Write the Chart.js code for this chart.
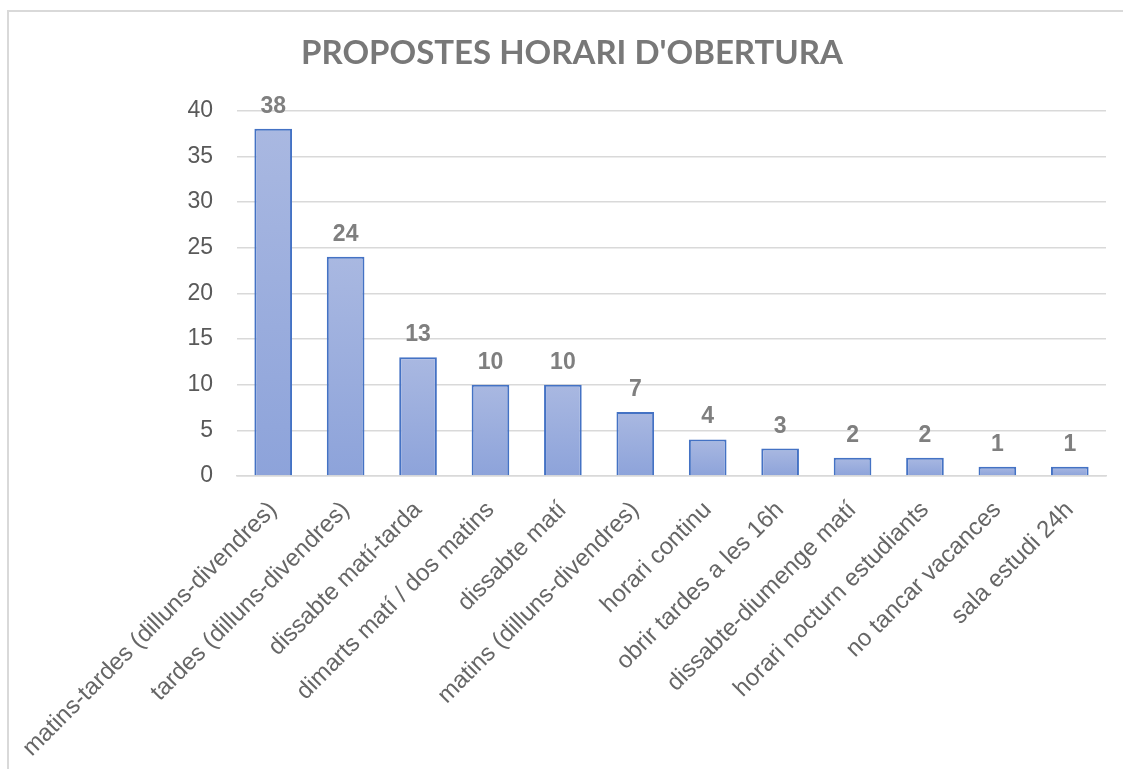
<!DOCTYPE html>
<html>
<head>
<meta charset="utf-8">
<script src="https://cdn.jsdelivr.net/npm/chart.js@4"></script>
<style>
  html, body { margin: 0; padding: 0; background: #fff; overflow: hidden; }
  #frame {
    position: absolute; left: 7px; top: 10px; width: 1200px; height: 800px;
    border: 2px solid #d9d9d9;
  }
  #wrap { position: absolute; left: 0; top: 0; width: 1123px; height: 769px; }
</style>
</head>
<body>
<div id="frame"></div>
<div id="wrap"><canvas id="chart"></canvas></div>
<script>
const categories = [
  "matins-tardes (dilluns-divendres)",
  "tardes (dilluns-divendres)",
  "dissabte matí-tarda",
  "dimarts matí / dos matins",
  "dissabte matí",
  "matins (dilluns-divendres)",
  "horari continu",
  "obrir tardes a les 16h",
  "dissabte-diumenge matí",
  "horari nocturn estudiants",
  "no tancar vacances",
  "sala estudi 24h"
];
const counts = [38, 24, 13, 10, 10, 7, 4, 3, 2, 2, 1, 1];
const title = "PROPOSTES HORARI D'OBERTURA";

// each bar gets its own light-to-dark vertical fill
function barFill(ctx) {
  const chart = ctx.chart;
  if (!chart.chartArea) return "#9aaedf";
  const y = chart.scales.y;
  const top = y.getPixelForValue(counts[ctx.dataIndex]);
  const bottom = y.getPixelForValue(0);
  const g = chart.ctx.createLinearGradient(0, top, 0, bottom);
  g.addColorStop(0, "#a9b8e1");
  g.addColorStop(1, "#8da3da");
  return g;
}

// numbers above the bars
const valueLabels = {
  id: "valueLabels",
  afterDatasetsDraw(chart) {
    const ctx = chart.ctx;
    const meta = chart.getDatasetMeta(0);
    ctx.save();
    ctx.font = "bold 23px 'Liberation Sans', Arial, sans-serif";
    ctx.fillStyle = "#7f7f7f";
    ctx.textAlign = "center";
    ctx.textBaseline = "alphabetic";
    meta.data.forEach((bar, i) => {
      ctx.fillText(String(counts[i]), bar.x, bar.y - 16);
    });
    ctx.restore();
  }
};

new Chart(document.getElementById("chart"), {
  type: "bar",
  data: {
    labels: categories,
    datasets: [{
      data: counts,
      backgroundColor: barFill,
      borderColor: "#4472c4",
      borderWidth: 2,
      borderSkipped: "bottom",
      categoryPercentage: 1,
      barPercentage: 0.52
    }]
  },
  options: {
    responsive: true,
    maintainAspectRatio: false,
    animation: false,
    layout: { padding: { left: 38, right: 17, top: 0, bottom: 0 } },
    plugins: {
      legend: { display: false },
      tooltip: { enabled: false },
      title: {
        display: true,
        text: title,
        color: "#787878",
        font: { family: "Lato", weight: "bold", size: 33 },
        padding: { top: 34, bottom: 37 }
      }
    },
    scales: {
      x: {
        grid: { display: false },
        border: { color: "#d9d9d9", width: 1.5 },
        ticks: {
          color: "#666666",
          font: { family: "'Liberation Sans', Arial, sans-serif", size: 24 },
          minRotation: 45,
          maxRotation: 45,
          autoSkip: false,
          padding: 12
        },
        afterFit(scale) { scale.height = 293; }
      },
      y: {
        min: 0,
        max: 40,
        grid: { color: "#d9d9d9", lineWidth: 1.5, drawTicks: false },
        border: { display: false },
        ticks: {
          stepSize: 5,
          color: "#595959",
          font: { family: "'Liberation Sans', Arial, sans-serif", size: 23 },
          padding: 24
        },
        afterFit(scale) { scale.width = 199; }
      }
    }
  },
  plugins: [valueLabels]
});
</script>
</body>
</html>
